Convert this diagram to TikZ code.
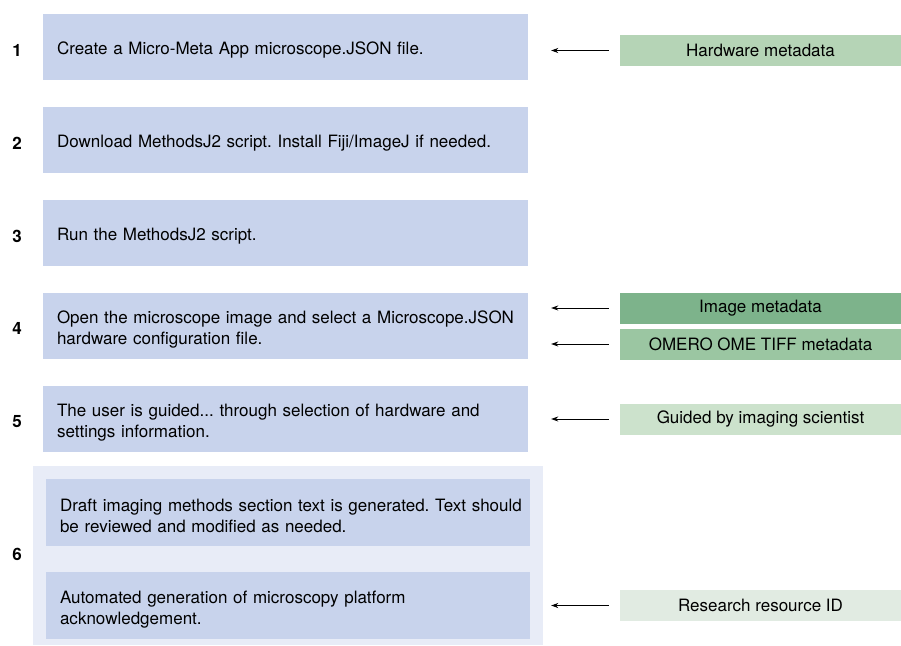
\documentclass[tikz,border=0pt]{standalone}
\usepackage{fontspec}
\setmainfont{TeX Gyre Heros}
\usetikzlibrary{arrows.meta}

\definecolor{stepblue}{HTML}{C8D3EC}
\definecolor{groupblue}{HTML}{E8ECF7}
\definecolor{hwgreen}{HTML}{B5D4B6}
\definecolor{imggreen}{HTML}{7DB38B}
\definecolor{omegreen}{HTML}{9BC6A2}
\definecolor{guidegreen}{HTML}{CCE2CC}
\definecolor{rrgreen}{HTML}{E1EBE2}

\begin{document}
\frenchspacing
\begin{tikzpicture}[x=1pt, y=-1pt,
        stepbox/.style={fill=stepblue, minimum width=485pt, minimum height=66pt, text width=457pt,
            inner xsep=14pt, inner ysep=0pt, align=left, font=\fontsize{17}{21}\selectfont,
            execute at begin node={\rule{0pt}{20pt}}},
        srcbox/.style={minimum width=281pt, minimum height=31pt, inner sep=0pt,
            font=\fontsize{17}{20}\selectfont},
        num/.style={font=\bfseries\fontsize{17}{20}\selectfont},
        arr/.style={-{Stealth[length=7pt, width=5pt]}, line width=0.8pt}]
        \useasboundingbox (0, 0) rectangle (901, 645);

        \node[fill=groupblue, minimum width=510pt, minimum height=179pt, inner sep=0pt] (g6) at (288, 555.5) {};

        \node[num] (n1) at (17, 50) {1};
        \node[stepbox] (s1) at (285.5, 46.5) {Create a Micro-Meta App microscope.JSON file.};
        \node[srcbox, fill=hwgreen] (hw) at (760.5, 50.5) {Hardware metadata};
        \draw[arr] ([xshift=-11pt]hw.west) -- ([xshift=23pt]s1.east |- hw.west);

        \node[num] (n2) at (17, 143) {2};
        \node[stepbox] (s2) at (285.5, 139.5) {Download MethodsJ2 script. Install Fiji/ImageJ if needed.};

        \node[num] (n3) at (17, 236) {3};
        \node[stepbox] (s3) at (285.5, 232.5) {Run the MethodsJ2 script.};

        \node[num] (n4) at (17, 328.5) {4};
        \node[stepbox] (s4) at (285.5, 326) {Open the microscope image and select a Microscope.JSON\\hardware configuration file.};
        \node[srcbox, fill=imggreen] (img) at (760.5, 308) {Image metadata};
        \node[srcbox, fill=omegreen] (ome) at (760.5, 344) {OMERO OME TIFF metadata};
        \draw[arr] ([xshift=-11pt]img.west) -- ([xshift=23pt]s4.east |- img.west);
        \draw[arr] ([xshift=-11pt]ome.west) -- ([xshift=23pt]s4.east |- ome.west);

        \node[num] (n5) at (17, 421.5) {5};
        \node[stepbox] (s5) at (285.5, 419) {The user is guided... through selection of hardware and\\settings information.};
        \node[srcbox, fill=guidegreen] (guide) at (760.5, 419) {Guided by imaging scientist};
        \draw[arr] ([xshift=-11pt]guide.west) -- ([xshift=23pt]s5.east |- guide.west);

        \node[num] (n6) at (17, 554) {6};
        \node[stepbox, minimum width=484pt, text width=456pt, minimum height=67pt] (s6a) at (288, 512.5) {\mbox{Draft imaging methods section text is generated. Text should}\\be reviewed and modified as needed.};
        \node[stepbox, minimum width=484pt, text width=456pt, minimum height=67pt] (s6b) at (288, 605.5) {Automated generation of microscopy platform\\acknowledgement.};
        \node[srcbox, fill=rrgreen] (rrid) at (760.5, 605.5) {Research resource ID};
        \draw[arr] ([xshift=-11pt]rrid.west) -- ([xshift=21pt]s6b.east |- rrid.west);

    \end{tikzpicture}
\end{document}
